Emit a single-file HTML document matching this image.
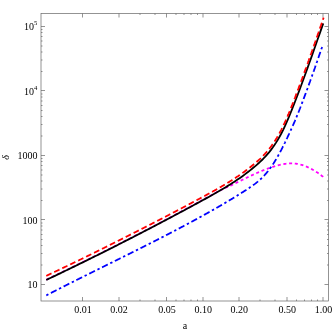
<!DOCTYPE html>
<html><head><meta charset="utf-8"><title>plot</title>
<style>
html,body{margin:0;padding:0;background:#fff;}
body{width:332px;height:331px;overflow:hidden;font-family:"Liberation Serif",serif;}
svg{display:block;will-change:transform;}
</style></head><body>
<svg width="332" height="331" viewBox="0 0 332 331">
<rect x="41.0" y="13.5" width="287.5" height="287.5" fill="none" stroke="#666" stroke-width="0.7"/>
<path d="M82.50 301.0 v-4 M82.50 13.5 v4 M119.00 301.0 v-4 M119.00 13.5 v4 M166.50 301.0 v-4 M166.50 13.5 v4 M203.00 301.0 v-4 M203.00 13.5 v4 M239.00 301.0 v-4 M239.00 13.5 v4 M287.00 301.0 v-4 M287.00 13.5 v4 M323.00 301.0 v-4 M323.00 13.5 v4 M140.00 301.0 v-1.5 M140.00 13.5 v1.5 M155.00 301.0 v-1.5 M155.00 13.5 v1.5 M176.00 301.0 v-1.5 M176.00 13.5 v1.5 M184.00 301.0 v-1.5 M184.00 13.5 v1.5 M191.00 301.0 v-1.5 M191.00 13.5 v1.5 M197.50 301.0 v-1.5 M197.50 13.5 v1.5 M260.00 301.0 v-1.5 M260.00 13.5 v1.5 M275.00 301.0 v-1.5 M275.00 13.5 v1.5 M296.50 301.0 v-1.5 M296.50 13.5 v1.5 M304.50 301.0 v-1.5 M304.50 13.5 v1.5 M311.50 301.0 v-1.5 M311.50 13.5 v1.5 M317.50 301.0 v-1.5 M317.50 13.5 v1.5 M41.0 284.50 h4 M328.5 284.50 h-4 M41.0 219.50 h4 M328.5 219.50 h-4 M41.0 155.50 h4 M328.5 155.50 h-4 M41.0 90.50 h4 M328.5 90.50 h-4 M41.0 26.50 h4 M328.5 26.50 h-4 M41.0 265.00 h1.5 M328.5 265.00 h-1.5 M41.0 253.50 h1.5 M328.5 253.50 h-1.5 M41.0 245.50 h1.5 M328.5 245.50 h-1.5 M41.0 239.50 h1.5 M328.5 239.50 h-1.5 M41.0 234.50 h1.5 M328.5 234.50 h-1.5 M41.0 230.00 h1.5 M328.5 230.00 h-1.5 M41.0 226.00 h1.5 M328.5 226.00 h-1.5 M41.0 223.00 h1.5 M328.5 223.00 h-1.5 M41.0 200.50 h1.5 M328.5 200.50 h-1.5 M41.0 189.00 h1.5 M328.5 189.00 h-1.5 M41.0 181.00 h1.5 M328.5 181.00 h-1.5 M41.0 175.00 h1.5 M328.5 175.00 h-1.5 M41.0 170.00 h1.5 M328.5 170.00 h-1.5 M41.0 165.50 h1.5 M328.5 165.50 h-1.5 M41.0 161.50 h1.5 M328.5 161.50 h-1.5 M41.0 158.50 h1.5 M328.5 158.50 h-1.5 M41.0 136.00 h1.5 M328.5 136.00 h-1.5 M41.0 124.50 h1.5 M328.5 124.50 h-1.5 M41.0 116.50 h1.5 M328.5 116.50 h-1.5 M41.0 110.50 h1.5 M328.5 110.50 h-1.5 M41.0 105.50 h1.5 M328.5 105.50 h-1.5 M41.0 101.00 h1.5 M328.5 101.00 h-1.5 M41.0 97.00 h1.5 M328.5 97.00 h-1.5 M41.0 94.00 h1.5 M328.5 94.00 h-1.5 M41.0 71.50 h1.5 M328.5 71.50 h-1.5 M41.0 60.00 h1.5 M328.5 60.00 h-1.5 M41.0 52.00 h1.5 M328.5 52.00 h-1.5 M41.0 46.00 h1.5 M328.5 46.00 h-1.5 M41.0 41.00 h1.5 M328.5 41.00 h-1.5 M41.0 36.50 h1.5 M328.5 36.50 h-1.5 M41.0 32.50 h1.5 M328.5 32.50 h-1.5 M41.0 29.50 h1.5 M328.5 29.50 h-1.5" fill="none" stroke="#666" stroke-width="0.7"/>
<path d="M46.25 279.66 L46.61 279.49 L46.97 279.32 L47.33 279.14 L47.70 278.97 L48.06 278.80 L48.42 278.63 L48.78 278.46 L49.05 278.33 M51.45 277.19 L51.81 277.02 L52.17 276.85 L52.53 276.68 L52.89 276.51 L53.25 276.33 L53.61 276.16 L53.97 275.99 L54.20 275.88 M56.64 274.72 L57.00 274.55 L57.36 274.37 L57.72 274.20 L58.08 274.03 L58.44 273.86 L58.80 273.68 L59.16 273.51 L59.39 273.40 M61.82 272.23 L62.18 272.06 L62.54 271.89 L62.90 271.71 L63.26 271.54 L63.62 271.37 L63.98 271.19 L64.34 271.02 L64.57 270.91 M67.00 269.74 L67.36 269.56 L67.72 269.39 L68.08 269.21 L68.44 269.04 L68.80 268.87 L69.16 268.69 L69.52 268.52 L69.75 268.41 M72.18 267.23 L72.54 267.06 L72.90 266.88 L73.26 266.71 L73.61 266.53 L73.97 266.36 L74.33 266.18 L74.69 266.01 L74.92 265.90 M77.30 264.74 L77.66 264.56 L78.02 264.39 L78.38 264.21 L78.74 264.03 L79.10 263.86 L79.46 263.68 L79.82 263.51 L80.04 263.40 M82.47 262.21 L82.83 262.03 L83.18 261.86 L83.54 261.68 L83.90 261.51 L84.26 261.33 L84.62 261.15 L84.98 260.98 L85.20 260.87 M87.63 259.67 L87.99 259.50 L88.34 259.32 L88.70 259.14 L89.06 258.97 L89.42 258.79 L89.78 258.61 L90.14 258.43 L90.36 258.32 M92.78 257.13 L93.14 256.95 L93.50 256.77 L93.86 256.59 L94.22 256.42 L94.57 256.24 L94.93 256.06 L95.29 255.88 L95.52 255.77 M97.93 254.57 L98.29 254.39 L98.65 254.21 L99.01 254.04 L99.37 253.86 L99.72 253.68 L100.08 253.50 L100.44 253.32 L100.66 253.21 M103.08 252.00 L103.44 251.83 L103.79 251.65 L104.15 251.47 L104.51 251.29 L104.87 251.11 L105.23 250.93 L105.58 250.75 L105.81 250.64 M108.17 249.45 L108.53 249.27 L108.89 249.09 L109.25 248.91 L109.60 248.73 L109.96 248.55 L110.32 248.37 L110.68 248.19 L110.90 248.08 M113.31 246.86 L113.67 246.68 L114.03 246.50 L114.38 246.32 L114.74 246.14 L115.10 245.96 L115.45 245.78 L115.81 245.60 L116.03 245.49 M118.44 244.27 L118.80 244.09 L119.16 243.91 L119.51 243.73 L119.87 243.55 L120.23 243.36 L120.58 243.18 L120.94 243.00 L121.16 242.89 M123.57 241.66 L123.92 241.48 L124.28 241.30 L124.64 241.12 L124.99 240.94 L125.35 240.76 L125.71 240.57 L126.06 240.39 L126.29 240.28 M128.69 239.05 L129.05 238.87 L129.40 238.69 L129.76 238.50 L130.11 238.32 L130.47 238.14 L130.83 237.96 L131.18 237.77 L131.40 237.66 M133.81 236.43 L134.16 236.24 L134.52 236.06 L134.87 235.88 L135.23 235.69 L135.58 235.51 L135.94 235.33 L136.30 235.14 L136.52 235.03 M138.87 233.82 L139.23 233.63 L139.58 233.45 L139.94 233.26 L140.29 233.08 L140.65 232.90 L141.01 232.71 L141.36 232.53 L141.58 232.41 M143.98 231.17 L144.34 230.99 L144.69 230.80 L145.05 230.62 L145.40 230.44 L145.76 230.25 L146.11 230.07 L146.47 229.88 L146.69 229.77 M149.08 228.52 L149.44 228.34 L149.79 228.15 L150.15 227.97 L150.50 227.78 L150.86 227.60 L151.21 227.41 L151.56 227.23 L151.79 227.11 M154.18 225.86 L154.53 225.67 L154.89 225.49 L155.24 225.30 L155.60 225.12 L155.95 224.93 L156.31 224.75 L156.66 224.56 L156.88 224.44 M159.27 223.19 L159.63 223.00 L159.98 222.82 L160.33 222.63 L160.69 222.44 L161.04 222.26 L161.40 222.07 L161.75 221.88 L161.97 221.77 M164.36 220.51 L164.71 220.32 L165.07 220.14 L165.42 219.95 L165.77 219.76 L166.13 219.57 L166.48 219.39 L166.84 219.20 L167.06 219.08 M169.40 217.84 L169.75 217.66 L170.10 217.47 L170.46 217.28 L170.81 217.09 L171.16 216.91 L171.52 216.72 L171.87 216.53 L172.09 216.41 M174.48 215.15 L174.83 214.96 L175.18 214.77 L175.54 214.58 L175.89 214.39 L176.24 214.21 L176.59 214.02 L176.95 213.83 L177.17 213.71 M179.55 212.44 L179.90 212.25 L180.26 212.06 L180.61 211.87 L180.96 211.69 L181.31 211.50 L181.67 211.31 L182.02 211.12 L182.24 211.00 M184.62 209.72 L184.97 209.54 L185.32 209.35 L185.68 209.16 L186.03 208.97 L186.38 208.78 L186.73 208.59 L187.08 208.40 L187.30 208.28 M189.68 207.00 L190.03 206.81 L190.39 206.62 L190.74 206.43 L191.09 206.24 L191.44 206.05 L191.79 205.86 L192.15 205.67 L192.37 205.55 M194.74 204.27 L195.09 204.08 L195.44 203.89 L195.80 203.70 L196.15 203.51 L196.50 203.32 L196.85 203.12 L197.20 202.93 L197.42 202.81 M199.75 201.55 L200.10 201.36 L200.45 201.17 L200.81 200.98 L201.16 200.79 L201.51 200.59 L201.86 200.40 L202.21 200.21 L202.43 200.09 M204.80 198.80 L205.15 198.61 L205.50 198.42 L205.85 198.22 L206.21 198.03 L206.56 197.84 L206.91 197.65 L207.26 197.45 L207.48 197.33 M209.84 196.03 L210.19 195.84 L210.54 195.64 L210.89 195.45 L211.24 195.26 L211.59 195.06 L211.94 194.87 L212.29 194.67 L212.51 194.55 M214.86 193.23 L215.21 193.04 L215.56 192.84 L215.91 192.65 L216.26 192.46 L216.61 192.26 L216.97 192.07 L217.32 191.88 L217.54 191.76 M219.93 190.51 L220.28 190.33 L220.64 190.15 L221.00 189.97 L221.36 189.79 L221.72 189.61 L222.08 189.44 L222.44 189.26 L222.66 189.16 M225.12 188.03 L225.48 187.87 L225.85 187.70 L226.21 187.54 L226.58 187.39 L226.95 187.23 L227.31 187.07 L227.68 186.91 L227.91 186.81 M230.34 185.74 L230.70 185.58 L231.06 185.40 L231.42 185.23 L231.78 185.06 L232.15 184.89 L232.50 184.71 L232.86 184.53 L233.09 184.42 M235.51 183.23 L235.86 183.05 L236.22 182.87 L236.58 182.69 L236.94 182.51 L237.30 182.34 L237.66 182.16 L238.01 181.98 L238.24 181.87 M240.66 180.67 L241.02 180.50 L241.38 180.32 L241.74 180.14 L242.09 179.97 L242.45 179.79 L242.81 179.61 L243.17 179.44 L243.40 179.33 M245.82 178.14 L246.18 177.97 L246.54 177.80 L246.90 177.62 L247.26 177.45 L247.62 177.28 L247.99 177.10 L248.35 176.93 L248.57 176.82 M251.01 175.67 L251.38 175.50 L251.74 175.33 L252.10 175.16 L252.46 174.99 L252.83 174.83 L253.19 174.66 L253.55 174.49 L253.78 174.39 M256.24 173.28 L256.61 173.12 L256.98 172.96 L257.34 172.80 L257.71 172.64 L258.08 172.48 L258.44 172.32 L258.81 172.16 L259.04 172.06 M261.48 171.03 L261.85 170.88 L262.22 170.73 L262.59 170.58 L262.96 170.43 L263.33 170.28 L263.71 170.13 L264.08 169.99 L264.31 169.89 M266.83 168.93 L267.21 168.79 L267.58 168.65 L267.96 168.51 L268.33 168.38 L268.71 168.24 L269.09 168.11 L269.47 167.98 L269.70 167.89 M272.26 167.03 L272.64 166.91 L273.02 166.78 L273.40 166.67 L273.79 166.55 L274.17 166.43 L274.55 166.31 L274.93 166.20 L275.17 166.13 M277.77 165.39 L278.16 165.29 L278.55 165.19 L278.93 165.10 L279.32 165.00 L279.71 164.90 L280.10 164.81 L280.49 164.72 L280.73 164.67 M283.38 164.14 L283.77 164.07 L284.17 164.00 L284.56 163.94 L284.96 163.88 L285.36 163.82 L285.75 163.77 L286.15 163.71 L286.40 163.69 M289.09 163.45 L289.49 163.43 L289.89 163.42 L290.29 163.41 L290.68 163.39 L291.08 163.39 L291.48 163.39 L291.88 163.40 L292.13 163.40 M294.78 163.56 L295.18 163.60 L295.58 163.64 L295.97 163.69 L296.37 163.75 L296.76 163.81 L297.16 163.86 L297.55 163.93 L297.80 163.98 M300.44 164.55 L300.82 164.65 L301.21 164.76 L301.59 164.87 L301.98 164.98 L302.36 165.10 L302.74 165.22 L303.12 165.34 L303.36 165.42 M305.89 166.36 L306.26 166.51 L306.63 166.66 L307.00 166.82 L307.37 166.98 L307.73 167.14 L308.09 167.31 L308.46 167.47 L308.69 167.58 M311.10 168.80 L311.45 168.98 L311.80 169.17 L312.15 169.37 L312.50 169.57 L312.85 169.76 L313.19 169.96 L313.54 170.16 L313.75 170.29 M316.05 171.71 L316.39 171.93 L316.72 172.14 L317.05 172.37 L317.39 172.59 L317.72 172.81 L318.05 173.04 L318.38 173.26 L318.58 173.41 M320.73 174.96 L321.06 175.19 L321.38 175.43 L321.70 175.67 L322.01 175.92 L322.33 176.16 L322.65 176.41 L322.96 176.65 L323.20 176.84" fill="none" stroke="#ff00ff" stroke-width="1.8"/>
<path d="M46.25 295.41 L46.61 295.22 L46.96 295.04 L47.32 294.85 L47.67 294.67 L48.03 294.49 L48.38 294.30 M50.87 293.02 L51.23 292.84 L51.58 292.65 L51.94 292.47 L52.29 292.29 L52.65 292.11 L53.01 291.92 L53.36 291.74 L53.72 291.56 L54.07 291.38 L54.43 291.19 L54.79 291.01 L55.14 290.83 L55.50 290.65 L55.85 290.46 L56.21 290.28 L56.57 290.10 M59.02 288.85 L59.37 288.67 L59.73 288.49 L60.09 288.31 L60.44 288.12 L60.80 287.94 L61.16 287.76 M63.61 286.52 L63.96 286.34 L64.32 286.16 L64.68 285.98 L65.04 285.80 L65.39 285.62 L65.75 285.43 L66.11 285.25 L66.46 285.07 L66.82 284.89 L67.18 284.71 L67.53 284.53 L67.89 284.35 L68.25 284.17 L68.61 283.99 L68.96 283.81 L69.32 283.63 M71.78 282.40 L72.13 282.22 L72.49 282.04 L72.85 281.86 L73.21 281.68 L73.56 281.50 L73.92 281.32 M76.38 280.09 L76.74 279.91 L77.10 279.73 L77.45 279.55 L77.81 279.37 L78.17 279.19 L78.53 279.01 L78.89 278.84 L79.24 278.66 L79.60 278.48 L79.96 278.30 L80.32 278.12 L80.67 277.94 L81.03 277.76 L81.39 277.58 L81.75 277.41 L82.11 277.23 M84.61 275.98 L84.97 275.80 L85.33 275.62 L85.69 275.44 L86.05 275.27 L86.40 275.09 L86.72 274.93 M89.22 273.69 L89.58 273.51 L89.94 273.33 L90.30 273.15 L90.66 272.97 L91.02 272.80 L91.37 272.62 L91.73 272.44 L92.09 272.26 L92.45 272.08 L92.81 271.91 L93.17 271.73 L93.52 271.55 L93.88 271.37 L94.24 271.20 L94.60 271.02 L94.96 270.84 M97.42 269.62 L97.78 269.44 L98.14 269.26 L98.50 269.09 L98.86 268.91 L99.21 268.73 L99.57 268.55 M102.04 267.33 L102.40 267.16 L102.75 266.98 L103.11 266.80 L103.47 266.63 L103.83 266.45 L104.19 266.27 L104.55 266.09 L104.91 265.92 L105.26 265.74 L105.62 265.56 L105.98 265.38 L106.34 265.21 L106.70 265.03 L107.06 264.85 L107.42 264.67 L107.77 264.50 M110.24 263.28 L110.60 263.10 L110.96 262.92 L111.31 262.74 L111.67 262.57 L112.03 262.39 L112.39 262.21 M114.90 260.97 L115.26 260.79 L115.62 260.62 L115.97 260.44 L116.33 260.26 L116.69 260.08 L117.05 259.91 L117.41 259.73 L117.77 259.55 L118.13 259.37 L118.48 259.19 L118.84 259.02 L119.20 258.84 L119.56 258.66 L119.92 258.48 L120.28 258.31 L120.59 258.15 M123.10 256.91 L123.46 256.73 L123.81 256.55 L124.17 256.37 L124.53 256.20 L124.89 256.02 L125.25 255.84 M127.71 254.62 L128.07 254.44 L128.43 254.26 L128.78 254.08 L129.14 253.90 L129.50 253.72 L129.86 253.55 L130.22 253.37 L130.57 253.19 L130.93 253.01 L131.29 252.83 L131.65 252.65 L132.01 252.48 L132.36 252.30 L132.72 252.12 L133.08 251.94 L133.44 251.76 M135.90 250.53 L136.26 250.35 L136.61 250.17 L136.97 250.00 L137.33 249.82 L137.69 249.64 L138.05 249.46 M140.50 248.23 L140.86 248.05 L141.22 247.87 L141.58 247.69 L141.93 247.51 L142.29 247.33 L142.65 247.15 L143.01 246.97 L143.36 246.79 L143.72 246.61 L144.08 246.43 L144.44 246.25 L144.79 246.07 L145.15 245.89 L145.51 245.71 L145.86 245.53 L146.22 245.35 M148.72 244.09 L149.08 243.91 L149.43 243.73 L149.79 243.55 L150.15 243.36 L150.51 243.18 L150.82 243.03 M153.31 241.76 L153.67 241.58 L154.03 241.40 L154.38 241.21 L154.74 241.03 L155.10 240.85 L155.45 240.67 L155.81 240.49 L156.17 240.31 L156.52 240.12 L156.88 239.94 L157.24 239.76 L157.59 239.58 L157.95 239.40 L158.30 239.22 L158.66 239.03 L159.02 238.85 M161.46 237.60 L161.82 237.41 L162.18 237.23 L162.53 237.05 L162.89 236.86 L163.24 236.68 L163.60 236.50 M166.04 235.24 L166.40 235.05 L166.75 234.87 L167.11 234.69 L167.46 234.50 L167.82 234.32 L168.17 234.14 L168.53 233.95 L168.88 233.77 L169.24 233.58 L169.59 233.40 L169.95 233.21 L170.30 233.03 L170.66 232.84 L171.01 232.66 L171.37 232.48 L171.72 232.29 M174.21 230.99 L174.56 230.81 L174.91 230.62 L175.27 230.44 L175.62 230.25 L175.98 230.07 L176.29 229.90 M178.76 228.60 L179.12 228.41 L179.47 228.23 L179.83 228.04 L180.18 227.85 L180.53 227.67 L180.89 227.48 L181.24 227.29 L181.59 227.11 L181.95 226.92 L182.30 226.73 L182.65 226.54 L183.01 226.36 L183.36 226.17 L183.71 225.98 L184.07 225.79 L184.42 225.60 M186.85 224.31 L187.20 224.12 L187.55 223.93 L187.90 223.74 L188.26 223.55 L188.61 223.36 L188.96 223.18 M191.38 221.87 L191.74 221.68 L192.09 221.49 L192.44 221.30 L192.79 221.11 L193.14 220.92 L193.49 220.73 L193.85 220.54 L194.20 220.35 L194.55 220.16 L194.90 219.97 L195.25 219.78 L195.60 219.58 L195.96 219.39 L196.31 219.20 L196.66 219.01 L197.01 218.82 M199.47 217.47 L199.82 217.28 L200.17 217.09 L200.52 216.90 L200.87 216.70 L201.22 216.51 L201.52 216.34 M203.98 214.99 L204.33 214.79 L204.68 214.60 L205.02 214.41 L205.37 214.21 L205.72 214.02 L206.07 213.82 L206.42 213.63 L206.77 213.43 L207.12 213.24 L207.47 213.04 L207.82 212.85 L208.17 212.65 L208.52 212.46 L208.87 212.26 L209.22 212.07 L209.57 211.87 M211.96 210.52 L212.31 210.32 L212.66 210.13 L213.01 209.93 L213.35 209.73 L213.70 209.53 L214.05 209.34 M216.44 207.97 L216.78 207.77 L217.13 207.57 L217.48 207.38 L217.82 207.18 L218.17 206.98 L218.52 206.78 L218.86 206.58 L219.21 206.38 L219.56 206.18 L219.90 205.98 L220.25 205.77 L220.59 205.57 L220.94 205.37 L221.29 205.17 L221.63 204.97 L221.98 204.77 M224.39 203.35 L224.74 203.15 L225.08 202.95 L225.43 202.74 L225.77 202.54 L226.11 202.33 L226.46 202.13 M228.82 200.72 L229.16 200.52 L229.51 200.31 L229.85 200.10 L230.19 199.90 L230.53 199.69 L230.88 199.48 L231.22 199.28 L231.56 199.07 L231.90 198.86 L232.25 198.66 L232.59 198.45 L232.93 198.24 L233.27 198.03 L233.61 197.82 L233.95 197.61 L234.29 197.41 M236.68 195.94 L237.02 195.73 L237.36 195.52 L237.70 195.30 L238.04 195.09 L238.38 194.88 L238.67 194.70 M241.05 193.21 L241.38 192.99 L241.72 192.78 L242.06 192.57 L242.40 192.35 L242.74 192.14 L243.07 191.92 L243.41 191.71 L243.75 191.49 L244.08 191.28 L244.42 191.06 L244.76 190.84 L245.09 190.63 L245.43 190.41 L245.77 190.20 L246.10 189.98 L246.44 189.76 M248.78 188.23 L249.12 188.01 L249.45 187.79 L249.78 187.56 L250.11 187.34 L250.44 187.12 L250.73 186.92 M253.03 185.32 L253.35 185.08 L253.68 184.84 L254.00 184.61 L254.32 184.37 L254.64 184.13 L254.96 183.89 L255.28 183.65 L255.59 183.40 L255.91 183.16 L256.23 182.91 L256.54 182.66 L256.85 182.41 L257.16 182.16 L257.47 181.90 L257.78 181.65 L258.08 181.39 M260.18 179.54 L260.48 179.27 L260.77 179.00 L261.06 178.72 L261.36 178.45 L261.64 178.17 L261.92 177.89 M263.88 175.88 L264.15 175.59 L264.42 175.30 L264.69 175.00 L264.96 174.71 L265.22 174.41 L265.49 174.10 L265.75 173.80 L266.01 173.50 L266.27 173.20 L266.54 172.89 L266.79 172.58 L267.04 172.27 L267.29 171.96 L267.54 171.65 L267.80 171.34 L268.05 171.03 L268.08 170.99 M269.75 168.81 L269.99 168.49 L270.22 168.16 L270.46 167.84 L270.69 167.51 L270.92 167.19 L271.15 166.86 L271.18 166.82 M272.76 164.51 L272.99 164.18 L273.21 163.84 L273.43 163.51 L273.65 163.18 L273.86 162.84 L274.08 162.50 L274.29 162.16 L274.50 161.82 L274.72 161.49 L274.93 161.15 L275.14 160.81 L275.35 160.47 L275.56 160.13 L275.77 159.78 L275.97 159.44 L276.18 159.10 L276.20 159.05 M277.61 156.63 L277.81 156.29 L278.01 155.94 L278.20 155.59 L278.40 155.24 L278.60 154.89 L278.79 154.54 M280.12 152.08 L280.31 151.73 L280.50 151.37 L280.68 151.02 L280.87 150.66 L281.05 150.31 L281.23 149.95 L281.42 149.60 L281.60 149.24 L281.78 148.89 L281.96 148.53 L282.15 148.17 L282.33 147.82 L282.51 147.46 L282.68 147.10 L282.86 146.74 L283.04 146.38 L283.09 146.30 M284.33 143.79 L284.50 143.43 L284.68 143.07 L284.85 142.71 L285.03 142.35 L285.20 141.99 L285.38 141.63 M286.59 139.10 L286.76 138.74 L286.94 138.38 L287.11 138.02 L287.28 137.66 L287.46 137.30 L287.63 136.94 L287.80 136.58 L287.97 136.22 L288.14 135.85 L288.31 135.49 L288.48 135.13 L288.65 134.77 L288.82 134.41 L289.00 134.05 L289.17 133.68 L289.33 133.32 L289.38 133.23 M290.56 130.69 L290.72 130.33 L290.89 129.97 L291.06 129.60 L291.22 129.24 L291.39 128.87 L291.55 128.51 M292.70 125.95 L292.86 125.59 L293.02 125.22 L293.18 124.86 L293.34 124.49 L293.50 124.12 L293.66 123.76 L293.82 123.39 L293.98 123.02 L294.14 122.66 L294.30 122.29 L294.46 121.92 L294.62 121.55 L294.77 121.18 L294.93 120.82 L295.08 120.45 L295.24 120.08 L295.28 119.99 M296.36 117.40 L296.51 117.03 L296.66 116.66 L296.81 116.29 L296.96 115.92 L297.11 115.55 L297.26 115.18 M298.31 112.58 L298.46 112.21 L298.61 111.84 L298.75 111.47 L298.90 111.10 L299.05 110.72 L299.20 110.35 L299.34 109.98 L299.49 109.61 L299.64 109.24 L299.78 108.86 L299.93 108.49 L300.07 108.12 L300.22 107.75 L300.36 107.37 L300.51 107.00 L300.65 106.63 L300.69 106.53 M301.70 103.92 L301.84 103.55 L301.98 103.18 L302.13 102.80 L302.27 102.43 L302.41 102.05 L302.56 101.68 L302.57 101.63 M303.57 99.02 L303.71 98.64 L303.85 98.27 L303.99 97.89 L304.13 97.52 L304.27 97.14 L304.41 96.77 L304.55 96.40 L304.69 96.02 L304.83 95.65 L304.97 95.27 L305.11 94.90 L305.25 94.52 L305.39 94.15 L305.53 93.77 L305.67 93.40 L305.81 93.02 L305.83 92.97 M306.82 90.30 L306.95 89.93 L307.09 89.55 L307.23 89.17 L307.37 88.80 L307.50 88.42 L307.64 88.05 M308.60 85.42 L308.74 85.04 L308.87 84.67 L309.01 84.29 L309.15 83.91 L309.28 83.54 L309.42 83.16 L309.56 82.78 L309.69 82.41 L309.83 82.03 L309.96 81.66 L310.10 81.28 L310.23 80.90 L310.37 80.53 L310.50 80.15 L310.64 79.77 L310.77 79.40 L310.81 79.30 M311.75 76.67 L311.89 76.29 L312.02 75.91 L312.15 75.54 L312.29 75.16 L312.42 74.78 L312.55 74.40 L312.57 74.36 M313.51 71.72 L313.64 71.34 L313.77 70.96 L313.90 70.59 L314.04 70.21 L314.17 69.83 L314.30 69.45 L314.44 69.08 L314.57 68.70 L314.70 68.32 L314.83 67.94 L314.97 67.57 L315.10 67.19 L315.23 66.81 L315.36 66.43 L315.49 66.06 L315.63 65.68 L315.64 65.63 M316.58 62.94 L316.71 62.56 L316.84 62.19 L316.98 61.81 L317.11 61.43 L317.24 61.05 L317.37 60.67 M318.28 58.03 L318.42 57.65 L318.55 57.27 L318.68 56.89 L318.81 56.52 L318.94 56.14 L319.07 55.76 L319.20 55.38 L319.33 55.00 L319.46 54.62 L319.59 54.25 L319.72 53.87 L319.85 53.49 L319.98 53.11 L320.11 52.73 L320.24 52.35 L320.37 51.98 L320.40 51.88 M321.31 49.23 L321.44 48.85 L321.57 48.48 L321.70 48.10 L321.82 47.72 L321.95 47.34 L322.08 46.96" fill="none" stroke="#0000ff" stroke-width="1.8"/>
<path d="M46.25 279.96 L47.99 279.13 L49.73 278.31 L51.48 277.48 L53.22 276.65 L54.96 275.82 L56.70 274.99 L58.44 274.15 L60.19 273.32 L61.93 272.48 L63.67 271.64 L65.41 270.80 L67.16 269.96 L68.90 269.12 L70.64 268.28 L72.38 267.43 L74.12 266.58 L75.87 265.74 L77.61 264.89 L79.35 264.04 L81.09 263.18 L82.83 262.33 L84.58 261.47 L86.32 260.62 L88.06 259.76 L89.80 258.90 L91.55 258.04 L93.29 257.18 L95.03 256.31 L96.77 255.45 L98.51 254.58 L100.26 253.71 L102.00 252.84 L103.74 251.97 L105.48 251.10 L107.22 250.23 L108.97 249.35 L110.71 248.48 L112.45 247.60 L114.19 246.72 L115.94 245.84 L117.68 244.96 L119.42 244.07 L121.16 243.19 L122.90 242.30 L124.65 241.41 L126.39 240.53 L128.13 239.64 L129.87 238.74 L131.61 237.85 L133.36 236.96 L135.10 236.06 L136.84 235.16 L138.58 234.26 L140.33 233.36 L142.07 232.46 L143.81 231.56 L145.55 230.66 L147.29 229.75 L149.04 228.84 L150.78 227.94 L152.52 227.03 L154.26 226.12 L156.00 225.20 L157.75 224.29 L159.49 223.37 L161.23 222.46 L162.97 221.54 L164.72 220.62 L166.46 219.70 L168.20 218.78 L169.94 217.86 L171.68 216.93 L173.43 216.01 L175.17 215.08 L176.91 214.15 L178.65 213.22 L180.39 212.29 L182.14 211.36 L183.88 210.42 L185.62 209.49 L187.36 208.55 L189.11 207.61 L190.85 206.67 L192.59 205.73 L194.33 204.79 L196.07 203.85 L197.82 202.90 L199.56 201.96 L201.30 201.01 L203.04 200.06 L204.78 199.11 L206.53 198.16 L208.27 197.20 L210.01 196.24 L211.75 195.27 L213.50 194.30 L215.24 193.32 L216.98 192.32 L218.72 191.32 L220.46 190.31 L222.21 189.29 L223.95 188.25 L225.69 187.20 L227.43 186.13 L229.17 185.05 L230.92 183.94 L232.66 182.82 L234.40 181.68 L236.14 180.52 L237.89 179.34 L239.63 178.14 L241.37 176.91 L243.11 175.65 L244.85 174.37 L246.60 173.06 L248.34 171.73 L250.08 170.36 L251.82 168.96 L253.56 167.54 L255.31 166.08 L257.05 164.58 L258.79 163.04 L260.53 161.43 L262.28 159.76 L264.02 158.00 L265.76 156.15 L267.50 154.19 L269.24 152.12 L270.99 149.91 L272.73 147.56 L274.47 145.05 L276.21 142.38 L277.95 139.53 L279.70 136.49 L281.44 133.24 L283.18 129.78 L284.92 126.10 L286.67 122.22 L288.41 118.17 L290.15 113.98 L291.89 109.66 L293.63 105.24 L295.38 100.76 L297.12 96.21 L298.86 91.61 L300.60 86.95 L302.34 82.25 L304.09 77.50 L305.83 72.70 L307.57 67.87 L309.31 63.01 L311.06 58.12 L312.80 53.20 L314.54 48.26 L316.28 43.29 L318.02 38.32 L319.77 33.33 L321.51 28.34 L323.25 23.34" fill="none" stroke="#000" stroke-width="1.8"/>
<path d="M46.25 275.86 L46.61 275.69 L46.97 275.52 L47.34 275.35 L47.70 275.18 L48.06 275.01 L48.42 274.84 L48.78 274.67 L49.14 274.50 L49.51 274.32 L49.87 274.15 L50.23 273.98 L50.59 273.81 L50.95 273.64 L51.31 273.47 L51.50 273.38 M54.25 272.08 L54.61 271.91 L54.98 271.74 L55.34 271.56 L55.70 271.39 L56.06 271.22 L56.42 271.05 L56.78 270.88 L57.14 270.71 L57.50 270.53 L57.87 270.36 L58.23 270.19 L58.59 270.02 L58.95 269.85 L59.31 269.67 L59.49 269.59 M62.24 268.27 L62.60 268.10 L62.96 267.93 L63.33 267.76 L63.69 267.58 L64.05 267.41 L64.41 267.24 L64.77 267.06 L65.13 266.89 L65.49 266.72 L65.85 266.55 L66.21 266.37 L66.57 266.20 L66.93 266.03 L67.29 265.85 L67.43 265.79 M70.22 264.44 L70.58 264.27 L70.94 264.10 L71.30 263.92 L71.66 263.75 L72.02 263.58 L72.38 263.40 L72.74 263.23 L73.10 263.05 L73.46 262.88 L73.82 262.71 L74.18 262.53 L74.54 262.36 L74.90 262.18 L75.26 262.01 L75.40 261.94 M78.14 260.61 L78.50 260.44 L78.86 260.26 L79.22 260.09 L79.58 259.91 L79.94 259.74 L80.30 259.56 L80.66 259.39 L81.02 259.21 L81.38 259.04 L81.74 258.86 L82.10 258.69 L82.46 258.51 L82.82 258.34 L83.18 258.16 L83.36 258.07 M86.10 256.73 L86.46 256.56 L86.82 256.38 L87.18 256.21 L87.54 256.03 L87.90 255.85 L88.25 255.68 L88.61 255.50 L88.97 255.33 L89.33 255.15 L89.69 254.97 L90.05 254.80 L90.41 254.62 L90.77 254.44 L91.13 254.27 L91.31 254.18 M94.04 252.83 L94.40 252.66 L94.76 252.48 L95.12 252.30 L95.48 252.12 L95.84 251.95 L96.19 251.77 L96.55 251.59 L96.91 251.42 L97.27 251.24 L97.63 251.06 L97.99 250.88 L98.35 250.71 L98.70 250.53 L99.06 250.35 L99.24 250.26 M101.97 248.91 L102.33 248.73 L102.69 248.55 L103.05 248.37 L103.41 248.19 L103.77 248.02 L104.12 247.84 L104.48 247.66 L104.84 247.48 L105.20 247.30 L105.56 247.13 L105.91 246.95 L106.27 246.77 L106.63 246.59 L106.99 246.41 L107.17 246.32 M109.90 244.96 L110.25 244.78 L110.61 244.60 L110.97 244.42 L111.33 244.24 L111.68 244.06 L112.04 243.88 L112.40 243.70 L112.76 243.52 L113.11 243.35 L113.47 243.17 L113.83 242.99 L114.19 242.81 L114.54 242.63 L114.90 242.45 L115.08 242.36 M117.80 240.99 L118.16 240.81 L118.52 240.63 L118.88 240.45 L119.23 240.27 L119.59 240.09 L119.95 239.91 L120.31 239.73 L120.66 239.55 L121.02 239.37 L121.38 239.19 L121.74 239.01 L122.09 238.83 L122.45 238.65 L122.81 238.47 L122.99 238.38 M125.71 237.01 L126.07 236.83 L126.43 236.65 L126.78 236.47 L127.14 236.29 L127.50 236.11 L127.86 235.93 L128.21 235.75 L128.57 235.57 L128.93 235.39 L129.29 235.21 L129.64 235.03 L130.00 234.85 L130.36 234.67 L130.71 234.49 L130.89 234.40 M133.61 233.03 L133.97 232.85 L134.33 232.66 L134.68 232.48 L135.04 232.30 L135.40 232.12 L135.75 231.94 L136.11 231.76 L136.47 231.58 L136.82 231.40 L137.18 231.22 L137.54 231.04 L137.89 230.85 L138.25 230.67 L138.61 230.49 L138.79 230.40 M141.50 229.02 L141.86 228.83 L142.22 228.65 L142.57 228.47 L142.93 228.29 L143.28 228.11 L143.64 227.93 L144.00 227.74 L144.35 227.56 L144.71 227.38 L145.07 227.20 L145.42 227.01 L145.78 226.83 L146.13 226.65 L146.49 226.47 L146.67 226.38 M149.38 224.98 L149.74 224.80 L150.09 224.62 L150.45 224.44 L150.80 224.25 L151.16 224.07 L151.52 223.89 L151.87 223.70 L152.23 223.52 L152.58 223.34 L152.94 223.15 L153.29 222.97 L153.65 222.79 L154.01 222.61 L154.36 222.42 L154.54 222.33 M157.25 220.93 L157.60 220.75 L157.96 220.56 L158.31 220.38 L158.67 220.19 L159.02 220.01 L159.38 219.83 L159.74 219.64 L160.09 219.46 L160.45 219.27 L160.80 219.09 L161.16 218.91 L161.51 218.72 L161.87 218.54 L162.22 218.35 L162.40 218.26 M165.10 216.85 L165.46 216.67 L165.81 216.48 L166.17 216.30 L166.52 216.11 L166.88 215.93 L167.23 215.74 L167.59 215.56 L167.94 215.37 L168.30 215.19 L168.65 215.00 L169.01 214.82 L169.36 214.63 L169.71 214.45 L170.07 214.26 L170.25 214.17 M172.95 212.76 L173.30 212.57 L173.66 212.38 L174.01 212.20 L174.37 212.01 L174.72 211.83 L175.07 211.64 L175.43 211.46 L175.78 211.27 L176.14 211.08 L176.49 210.90 L176.84 210.71 L177.20 210.52 L177.55 210.34 L177.91 210.15 L178.08 210.06 M180.83 208.61 L181.18 208.43 L181.53 208.24 L181.89 208.05 L182.24 207.87 L182.59 207.68 L182.95 207.49 L183.30 207.31 L183.66 207.12 L184.01 206.93 L184.36 206.74 L184.72 206.56 L185.07 206.37 L185.42 206.18 L185.78 206.00 L185.95 205.90 M188.65 204.47 L189.00 204.29 L189.35 204.10 L189.71 203.91 L190.06 203.72 L190.41 203.53 L190.77 203.35 L191.12 203.16 L191.47 202.97 L191.83 202.78 L192.18 202.59 L192.53 202.41 L192.89 202.22 L193.24 202.03 L193.59 201.84 L193.77 201.75 M196.46 200.31 L196.81 200.12 L197.16 199.93 L197.52 199.75 L197.87 199.56 L198.22 199.37 L198.57 199.18 L198.93 198.99 L199.28 198.80 L199.63 198.61 L199.98 198.42 L200.34 198.23 L200.69 198.04 L201.04 197.85 L201.39 197.66 L201.57 197.57 M204.25 196.12 L204.61 195.93 L204.96 195.74 L205.31 195.55 L205.66 195.36 L206.01 195.17 L206.36 194.98 L206.72 194.79 L207.07 194.60 L207.42 194.40 L207.77 194.21 L208.12 194.02 L208.47 193.83 L208.82 193.64 L209.17 193.45 L209.39 193.33 M212.07 191.86 L212.42 191.66 L212.77 191.47 L213.12 191.28 L213.47 191.08 L213.81 190.89 L214.16 190.69 L214.51 190.50 L214.86 190.30 L215.21 190.11 L215.56 189.91 L215.91 189.71 L216.26 189.52 L216.61 189.32 L216.95 189.12 L217.13 189.03 M219.78 187.51 L220.12 187.31 L220.47 187.11 L220.81 186.91 L221.16 186.71 L221.51 186.51 L221.85 186.31 L222.20 186.10 L222.54 185.90 L222.89 185.70 L223.23 185.49 L223.57 185.29 L223.92 185.09 L224.26 184.88 L224.61 184.68 L224.82 184.55 M227.43 182.97 L227.77 182.76 L228.11 182.55 L228.45 182.34 L228.79 182.13 L229.13 181.92 L229.47 181.71 L229.81 181.49 L230.15 181.28 L230.49 181.07 L230.83 180.86 L231.16 180.64 L231.50 180.43 L231.84 180.21 L232.18 180.00 L232.39 179.86 M234.98 178.17 L235.32 177.95 L235.65 177.73 L235.99 177.51 L236.32 177.29 L236.65 177.06 L236.98 176.84 L237.31 176.62 L237.64 176.39 L237.98 176.17 L238.31 175.94 L238.64 175.72 L238.97 175.49 L239.29 175.26 L239.62 175.04 L239.83 174.89 M242.36 173.10 L242.69 172.87 L243.01 172.64 L243.34 172.40 L243.66 172.17 L243.98 171.93 L244.30 171.70 L244.63 171.46 L244.95 171.22 L245.27 170.98 L245.59 170.74 L245.91 170.51 L246.23 170.27 L246.55 170.03 L246.87 169.79 L247.07 169.63 M249.53 167.74 L249.84 167.50 L250.16 167.25 L250.47 167.00 L250.78 166.75 L251.10 166.50 L251.41 166.25 L251.72 166.00 L252.03 165.75 L252.34 165.50 L252.65 165.25 L252.96 164.99 L253.27 164.74 L253.58 164.49 L253.89 164.23 L254.12 164.04 M256.49 162.04 L256.79 161.78 L257.10 161.52 L257.40 161.26 L257.70 160.99 L258.00 160.73 L258.30 160.46 L258.60 160.20 L258.90 159.93 L259.19 159.66 L259.48 159.39 L259.78 159.12 L260.07 158.84 L260.36 158.57 L260.65 158.30 L260.90 158.05 M263.12 155.81 L263.39 155.52 L263.67 155.23 L263.95 154.94 L264.22 154.65 L264.49 154.35 L264.76 154.06 L265.03 153.76 L265.30 153.47 L265.57 153.17 L265.83 152.87 L266.09 152.57 L266.36 152.27 L266.62 151.97 L266.88 151.66 L267.11 151.40 M269.14 148.93 L269.39 148.62 L269.64 148.30 L269.88 147.98 L270.12 147.66 L270.37 147.35 L270.61 147.03 L270.85 146.71 L271.09 146.39 L271.33 146.07 L271.56 145.74 L271.80 145.42 L272.03 145.10 L272.27 144.77 L272.50 144.45 L272.73 144.12 M274.53 141.48 L274.75 141.14 L274.96 140.80 L275.18 140.46 L275.39 140.13 L275.61 139.79 L275.82 139.45 L276.04 139.12 L276.25 138.78 L276.46 138.43 L276.66 138.09 L276.87 137.75 L277.07 137.40 L277.28 137.06 L277.48 136.72 L277.69 136.37 L277.71 136.33 M279.29 133.55 L279.49 133.20 L279.68 132.85 L279.87 132.50 L280.06 132.14 L280.25 131.79 L280.43 131.44 L280.62 131.08 L280.81 130.73 L280.99 130.37 L281.18 130.02 L281.37 129.67 L281.55 129.31 L281.72 128.95 L281.90 128.59 L282.08 128.23 L282.12 128.15 M283.55 125.22 L283.72 124.86 L283.89 124.50 L284.05 124.14 L284.22 123.77 L284.39 123.41 L284.56 123.05 L284.73 122.69 L284.90 122.32 L285.06 121.96 L285.22 121.59 L285.39 121.23 L285.55 120.86 L285.71 120.49 L285.87 120.13 L286.03 119.76 L286.07 119.67 M287.36 116.69 L287.52 116.32 L287.68 115.95 L287.83 115.58 L287.99 115.22 L288.14 114.85 L288.30 114.48 L288.45 114.11 L288.61 113.74 L288.76 113.37 L288.91 113.00 L289.06 112.63 L289.21 112.26 L289.36 111.89 L289.52 111.52 L289.67 111.15 L289.71 111.06 M290.92 108.04 L291.07 107.67 L291.22 107.30 L291.37 106.93 L291.52 106.56 L291.67 106.19 L291.81 105.81 L291.96 105.44 L292.11 105.07 L292.25 104.70 L292.40 104.33 L292.55 103.95 L292.69 103.58 L292.84 103.21 L292.98 102.84 L293.13 102.46 L293.18 102.32 M294.36 99.29 L294.50 98.92 L294.65 98.55 L294.79 98.17 L294.94 97.80 L295.08 97.43 L295.22 97.05 L295.37 96.68 L295.51 96.31 L295.65 95.93 L295.79 95.56 L295.94 95.19 L296.08 94.81 L296.22 94.44 L296.36 94.06 L296.51 93.69 L296.56 93.55 M297.69 90.56 L297.83 90.18 L297.97 89.81 L298.11 89.43 L298.25 89.06 L298.39 88.68 L298.54 88.31 L298.68 87.94 L298.82 87.56 L298.96 87.19 L299.10 86.81 L299.24 86.44 L299.37 86.06 L299.51 85.69 L299.65 85.31 L299.79 84.94 L299.84 84.80 M300.97 81.75 L301.11 81.37 L301.25 81.00 L301.39 80.62 L301.53 80.25 L301.66 79.87 L301.80 79.50 L301.94 79.12 L302.08 78.75 L302.22 78.37 L302.35 77.99 L302.49 77.62 L302.63 77.24 L302.77 76.87 L302.90 76.49 L303.04 76.12 L303.09 75.97 M304.20 72.92 L304.34 72.54 L304.47 72.17 L304.61 71.79 L304.75 71.42 L304.88 71.04 L305.02 70.66 L305.15 70.29 L305.29 69.91 L305.43 69.53 L305.56 69.16 L305.70 68.78 L305.83 68.41 L305.97 68.03 L306.10 67.65 L306.24 67.28 L306.29 67.13 M307.38 64.07 L307.52 63.70 L307.65 63.32 L307.79 62.94 L307.92 62.57 L308.06 62.19 L308.19 61.81 L308.32 61.44 L308.46 61.06 L308.59 60.68 L308.73 60.31 L308.86 59.93 L309.00 59.55 L309.13 59.18 L309.26 58.80 L309.40 58.42 L309.45 58.28 M310.53 55.22 L310.66 54.84 L310.80 54.46 L310.93 54.09 L311.06 53.71 L311.20 53.33 L311.33 52.95 L311.46 52.58 L311.60 52.20 L311.73 51.82 L311.86 51.44 L311.99 51.07 L312.13 50.69 L312.26 50.31 L312.39 49.93 L312.52 49.56 L312.57 49.42 M313.65 46.35 L313.78 45.97 L313.91 45.59 L314.05 45.22 L314.18 44.84 L314.31 44.46 L314.44 44.08 L314.58 43.71 L314.71 43.33 L314.84 42.95 L314.97 42.57 L315.10 42.20 L315.23 41.82 L315.37 41.44 L315.50 41.06 L315.63 40.68 L315.68 40.54 M316.75 37.47 L316.88 37.10 L317.01 36.72 L317.14 36.34 L317.27 35.96 L317.41 35.59 L317.54 35.21 L317.67 34.83 L317.80 34.45 L317.93 34.07 L318.06 33.70 L318.19 33.32 L318.33 32.94 L318.46 32.56 L318.59 32.18 L318.72 31.81 L318.77 31.67 M319.82 28.64 L319.95 28.26 L320.08 27.89 L320.21 27.51 L320.34 27.13 L320.47 26.75 L320.60 26.37 L320.73 26.00 L320.87 25.62 L321.00 25.24 L321.13 24.86 L321.26 24.48 L321.39 24.11 L321.52 23.73 L321.65 23.35 L321.78 22.97 L321.85 22.78 M322.90 19.76 L323.03 19.38 L323.16 19.00 L323.29 18.63 L323.43 18.25 L323.56 17.88 L323.65 17.64" fill="none" stroke="#ff0000" stroke-width="1.8"/>
<g font-family="Liberation Serif, serif" font-size="10" fill="#000"><text x="82.90" y="313.35" text-anchor="middle">0.01</text><text x="119.10" y="313.35" text-anchor="middle">0.02</text><text x="166.95" y="313.35" text-anchor="middle">0.05</text><text x="203.15" y="313.35" text-anchor="middle">0.10</text><text x="239.35" y="313.35" text-anchor="middle">0.20</text><text x="287.20" y="313.35" text-anchor="middle">0.50</text><text x="323.40" y="313.35" text-anchor="middle">1.00</text><text x="37.6" y="288.05" text-anchor="end">10</text><text x="37.6" y="223.55" text-anchor="end">100</text><text x="37.6" y="159.05" text-anchor="end">1000</text><text x="37.2" y="94.55" text-anchor="end">10<tspan dy="-4.6" font-size="6.6">4</tspan></text><text x="37.2" y="30.05" text-anchor="end">10<tspan dy="-4.6" font-size="6.6">5</tspan></text><text x="185.0" y="329.1" text-anchor="middle">a</text><text transform="translate(9.2,157.5) rotate(-90)" text-anchor="middle" font-style="italic">δ</text></g>
</svg>
</body></html>
